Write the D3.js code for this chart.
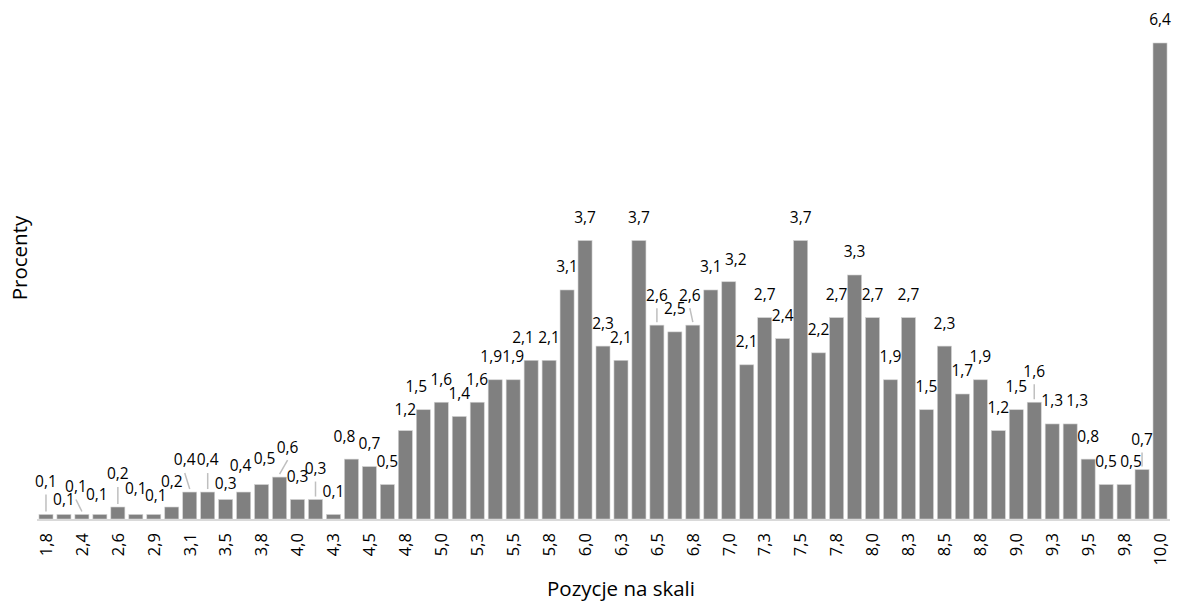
<!DOCTYPE html>
<html>
<head>
<meta charset="utf-8">
<script src="https://cdn.jsdelivr.net/npm/d3@7"></script>
<style>
  body { margin: 0; background: #fff; }
  svg { font-family: "Open Sans", sans-serif; }
</style>
</head>
<body>
<svg width="1177" height="602"></svg>
<script>
// tick labels shown under every other bar
var tickLabels = [
  "1,8", "2,4", "2,6", "2,9", "3,1", "3,5", "3,8", "4,0", "4,3", "4,5", "4,8",
  "5,0", "5,3", "5,5", "5,8", "6,0", "6,3", "6,5", "6,8", "7,0", "7,3", "7,5",
  "7,8", "8,0", "8,3", "8,5", "8,8", "9,0", "9,3", "9,5", "9,8", "10,0"
];

// percent per position
var values = [
  0.06, 0.06, 0.06, 0.06, 0.16, 0.06, 0.06, 0.16, 0.36, 0.36,
  0.26, 0.36, 0.46, 0.56, 0.26, 0.26, 0.06, 0.80, 0.70, 0.46,
  1.18, 1.46, 1.56, 1.37, 1.56, 1.86, 1.86, 2.12, 2.12, 3.06,
  3.72, 2.31, 2.12, 3.72, 2.59, 2.50, 2.59, 3.06, 3.17, 2.06,
  2.69, 2.41, 3.72, 2.22, 2.69, 3.26, 2.69, 1.86, 2.69, 1.46,
  2.31, 1.67, 1.86, 1.18, 1.46, 1.56, 1.27, 1.27, 0.80, 0.46,
  0.46, 0.66, 6.36
];

// label shifts [dx, dy] where the labels were moved apart
var labelNudge = {
  0: [0, -10], 1: [0, 8], 2: [-6, -5], 3: [-3, 3], 4: [0, -10], 5: [0, -3],
  6: [2, 4], 7: [0, -2], 8: [-5, -9], 9: [0, -9], 10: [0, 7], 11: [-3, -3],
  12: [3, -3], 13: [8, -7], 15: [0, -8], 17: [-7, 0], 20: [0, 2], 21: [-7, 0],
  25: [-4, 0], 27: [-8, 0], 34: [0, -7], 36: [-3, -7], 38: [7, 1],
  55: [0, -8], 57: [7, 0], 60: [7, 0], 61: [0, -7]
};

var svg = d3.select("svg");
var locale = d3.formatLocale({ decimal: ",", thousands: " ", grouping: [3], currency: ["", ""] });
var fmt = locale.format(".1f");

var baseline = 519;

var x = d3.scaleBand()
  .domain(d3.range(values.length))
  .range([37, 1169])
  .paddingInner(0.22)
  .paddingOuter(0.11);

var y = d3.scaleLinear()
  .domain([0, d3.max(values)])
  .range([baseline, 43]);

// bars
svg.append("g").selectAll("rect")
  .data(values)
  .enter().append("rect")
  .attr("x", function(d, i) { return x(i); })
  .attr("y", function(d) { return y(d); })
  .attr("width", x.bandwidth())
  .attr("height", function(d) { return baseline - y(d); })
  .attr("fill", "#808080")
  .attr("stroke", "#d0d0d0")
  .attr("stroke-width", 0.6);

// axis line
svg.append("line")
  .attr("x1", 37).attr("x2", 1170)
  .attr("y1", baseline + 1).attr("y2", baseline + 1)
  .attr("stroke", "#d9d9d9")
  .attr("stroke-width", 2);

// x tick labels
var xAxis = d3.axisBottom(x)
  .tickValues(d3.range(0, values.length, 2))
  .tickSize(0)
  .tickFormat(function(d) { return tickLabels[d / 2]; });

var xg = svg.append("g")
  .attr("transform", "translate(0," + baseline + ")")
  .call(xAxis);
xg.select(".domain").remove();
xg.selectAll("text")
  .attr("font-family", "Open Sans, sans-serif")
  .style("font-size", "16.5px")
  .attr("fill", "#000")
  .attr("transform", "rotate(-90)")
  .attr("x", -14)
  .attr("y", 0)
  .attr("dy", "0.35em")
  .style("text-anchor", "end");

// value labels + leader lines
var labels = svg.append("g");
values.forEach(function(v, i) {
  var n = labelNudge[i] || [0, 0];
  var cx = x(i) + x.bandwidth() / 2;
  var lx = cx + n[0];
  var ly = y(v) - 23 + n[1];
  if (n[1] <= -5) {
    var y1 = ly + 13, y2 = y(v) - 3;
    if (y2 - y1 > 3) {
      labels.append("line")
        .attr("x1", lx).attr("y1", y1)
        .attr("x2", cx).attr("y2", y2)
        .attr("stroke", "#bfbfbf")
        .attr("stroke-width", 1.5);
    }
  }
  labels.append("text")
    .attr("x", lx)
    .attr("y", ly)
    .attr("dy", "0.35em")
    .style("font-size", "15.5px")
    .style("text-anchor", "middle")
    .text(fmt(v));
});

// axis titles
svg.append("text")
  .attr("x", 621)
  .attr("y", 596)
  .style("font-size", "20.5px")
  .style("text-anchor", "middle")
  .text("Pozycje na skali");

svg.append("text")
  .attr("transform", "translate(27,258) rotate(-90)")
  .style("font-size", "20.5px")
  .style("text-anchor", "middle")
  .text("Procenty");
</script>
</body>
</html>
